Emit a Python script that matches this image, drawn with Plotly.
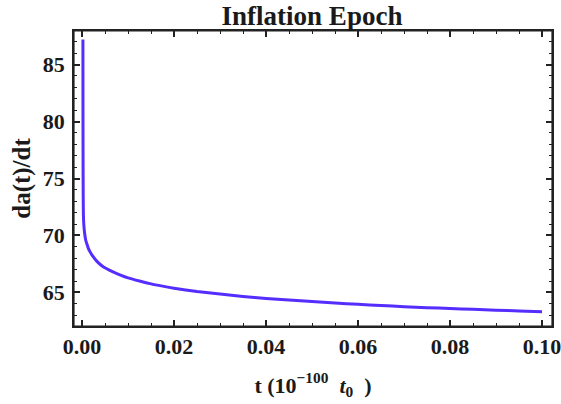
import plotly.graph_objects as go

# Data
t_vals = [0.0002, 0.00021, 0.00023, 0.00026, 0.0003, 0.0004, 0.0006, 0.0008, 0.0011, 0.0014,
          0.0017, 0.0023, 0.0033, 0.0046, 0.0065, 0.0085, 0.01, 0.0125, 0.015, 0.0175,
          0.02, 0.025, 0.03, 0.035, 0.04, 0.045, 0.05, 0.055, 0.06, 0.065, 0.07,
          0.075, 0.08, 0.085, 0.09, 0.095, 0.1]
dadt_vals = [87.2, 82.0, 77.0, 73.5, 71.9, 70.9, 70.1, 69.6, 69.2, 68.85,
             68.6, 68.2, 67.7, 67.25, 66.85, 66.5, 66.28, 66.0, 65.75, 65.55,
             65.37, 65.08, 64.85, 64.65, 64.47, 64.33, 64.2, 64.07, 63.95, 63.85, 63.75,
             63.66, 63.58, 63.51, 63.44, 63.37, 63.3]

x_tick0, x_dtick, x_minor = 0.0, 0.02, 0.005
y_tick0, y_dtick, y_minor = 0, 5, 1

title_text = "Inflation Epoch"
x_title = "t (10<sup>\u2212100</sup>  <i>t</i><sub>0</sub>  )"
y_title = "da(t)/dt"

FONT = "Liberation Serif"
TXT = "#1a1a1a"

fig = go.Figure()
fig.add_trace(go.Scatter(
    x=t_vals, y=dadt_vals, mode="lines",
    line=dict(color="rgb(85,45,255)", width=3, shape="spline", smoothing=0.5),
    showlegend=False, hoverinfo="skip",
))

axis_common = dict(
    showgrid=False, zeroline=False, showline=True, linecolor="#222", linewidth=1.5,
    mirror="allticks", ticks="inside", ticklen=6, tickwidth=1.5, tickcolor="#222",
    tickfont=dict(family=FONT, size=22, color=TXT, weight="bold"),
    automargin=False, ticklabeloverflow="allow",
)

fig.update_layout(
    width=561, height=404,
    margin=dict(l=74, r=9, t=31, b=78),
    paper_bgcolor="white", plot_bgcolor="white",
    font=dict(family=FONT, color=TXT),
    title=dict(text=title_text, x=312 / 561, xanchor="center",
               y=1 - 16 / 404, yanchor="middle",
               font=dict(family=FONT, size=27, color=TXT, weight="bold")),
    xaxis=dict(
        range=[-0.00174, 0.10217],
        tickmode="linear", tick0=x_tick0, dtick=x_dtick, tickformat=".2f",
        minor=dict(dtick=x_minor, tick0=x_tick0, ticks="inside", ticklen=3, tickwidth=1.2, tickcolor="#222"),
        title=dict(text=x_title, font=dict(family=FONT, size=22, weight="bold"), standoff=19),
        **axis_common,
    ),
    yaxis=dict(
        range=[62.05, 87.95],
        tickmode="linear", tick0=y_tick0, dtick=y_dtick, ticklabelstandoff=3,
        minor=dict(dtick=y_minor, tick0=y_tick0, ticks="inside", ticklen=3, tickwidth=1.2, tickcolor="#222"),
        title=dict(text=y_title, font=dict(family=FONT, size=25, weight="bold"), standoff=5),
        **axis_common,
    ),
    shapes=[dict(type="rect", xref="paper", yref="paper", x0=0, y0=0, x1=1, y1=1,
                 line=dict(color="#222", width=1.2), fillcolor="rgba(0,0,0,0)", layer="above")],
)

fig.write_html("out.html", config={"displayModeBar": False},
               post_script="document.body.style.margin='0';document.body.style.padding='0';")
